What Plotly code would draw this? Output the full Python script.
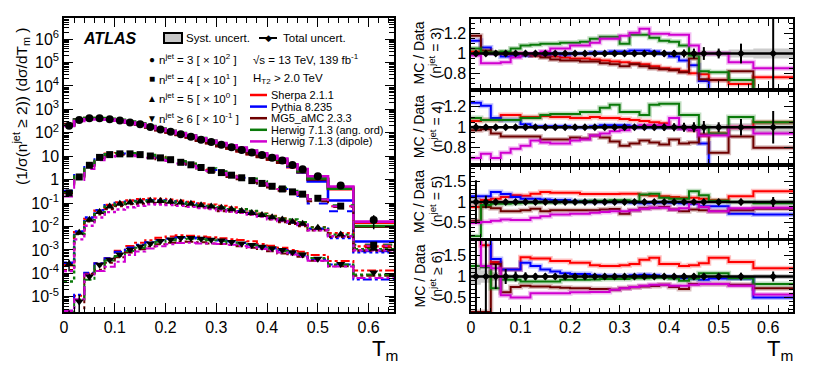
import plotly.graph_objects as go

W, H = 814, 386
# the page body keeps its default 8 px margin, so the figure is drawn 16 px smaller
OFF = 8
FIG_W, FIG_H = W - 2 * OFF, H - 2 * OFF
FONT = "Liberation Sans, Arial, Helvetica, sans-serif"

# T_m bin edges (last three bins are wider)
BIN_EDGES = [0.00, 0.02, 0.04, 0.06, 0.08, 0.10, 0.12, 0.14, 0.16, 0.18, 0.20,
             0.22, 0.24, 0.26, 0.28, 0.30, 0.32, 0.34, 0.36, 0.38, 0.40,
             0.42, 0.44, 0.46, 0.48, 0.52, 0.57, 0.65]

# data (1/sigma) dsigma/dT_m, already multiplied by the legend scale factor
DATA_N3 = [200, 355, 417, 417, 380, 331, 275, 229, 178, 138, 110, 87, 68, 51,
           40, 31, 24, 18.6, 14.5, 11.2, 8.7, 6.6, 4.2, 2.8, 1.4, 0.56, 0.019]
DATA_N4 = [0.27, 1.3, 4.1, 8.9, 11.7, 12.6, 12.6, 11.7, 10.2, 8.5, 7.1, 5.5,
           4.3, 3.3, 2.5, 2.0, 1.55, 1.2, 0.91, 0.69, 0.52, 0.40, 0.30, 0.24,
           0.16, 0.074, 0.0016]
DATA_N5 = [0.00025, 0.0054, 0.0195, 0.042, 0.072, 0.093, 0.107, 0.117, 0.126,
           0.123, 0.115, 0.105, 0.093, 0.081, 0.072, 0.063, 0.054, 0.046,
           0.038, 0.031, 0.025, 0.020, 0.0158, 0.0132, 0.0089, 0.0045, 0.00112]
DATA_N6 = [1.3e-6, 6.3e-6, 7.4e-5, 2.3e-4, 3.8e-4, 6.3e-4, 1.02e-3, 1.41e-3,
           1.9e-3, 2.4e-3, 2.8e-3, 3.2e-3, 3.2e-3, 3.0e-3, 2.75e-3, 2.5e-3,
           2.2e-3, 1.9e-3, 1.62e-3, 1.38e-3, 1.17e-3, 1.0e-3, 7.9e-4, 6.3e-4,
           4.2e-4, 2.5e-4, 1.1e-4]

# relative total / systematic uncertainties of data
TOT_N3 = [0.015, 0.012, 0.01, 0.01, 0.01, 0.01, 0.01, 0.01, 0.012, 0.012, 0.012,
          0.013, 0.014, 0.015, 0.017, 0.02, 0.022, 0.025, 0.03, 0.033, 0.035,
          0.04, 0.05, 0.065, 0.05, 0.1, 0.6]
TOT_N4 = [0.04, 0.02, 0.015, 0.012, 0.012, 0.012, 0.012, 0.012, 0.012, 0.012,
          0.013, 0.014, 0.015, 0.016, 0.018, 0.02, 0.022, 0.025, 0.03, 0.035,
          0.04, 0.045, 0.05, 0.06, 0.05, 0.08, 0.16]
TOT_N5 = [0.52, 0.15, 0.07, 0.05, 0.04, 0.035, 0.03, 0.03, 0.03, 0.03, 0.03,
          0.03, 0.03, 0.03, 0.03, 0.03, 0.035, 0.035, 0.04, 0.04, 0.045, 0.05,
          0.05, 0.06, 0.05, 0.08, 0.12]
TOT_N6 = [1.0, 0.9, 0.3, 0.18, 0.12, 0.1, 0.08, 0.07, 0.06, 0.06, 0.06, 0.05,
          0.05, 0.05, 0.05, 0.05, 0.05, 0.06, 0.06, 0.06, 0.06, 0.07, 0.07, 0.08,
          0.07, 0.09, 0.12]
SYST_N3 = [0.012, 0.01, 0.01, 0.01, 0.01, 0.01, 0.01, 0.01, 0.01, 0.01, 0.01,
           0.01, 0.012, 0.012, 0.013, 0.014, 0.015, 0.016, 0.018, 0.02, 0.02,
           0.022, 0.025, 0.03, 0.03, 0.04, 0.05]
SYST_N4 = [0.02, 0.012, 0.01, 0.01, 0.01, 0.01, 0.01, 0.01, 0.01, 0.01, 0.01,
           0.012, 0.012, 0.013, 0.014, 0.015, 0.016, 0.018, 0.02, 0.022, 0.025,
           0.028, 0.03, 0.035, 0.03, 0.04, 0.06]
SYST_N5 = [0.1, 0.05, 0.03, 0.025, 0.02, 0.02, 0.02, 0.02, 0.02, 0.02, 0.02,
           0.02, 0.02, 0.02, 0.02, 0.02, 0.022, 0.022, 0.025, 0.025, 0.028,
           0.03, 0.03, 0.035, 0.03, 0.04, 0.06]
SYST_N6 = [0.2, 0.15, 0.1, 0.06, 0.05, 0.04, 0.04, 0.035, 0.03, 0.03, 0.03,
           0.03, 0.03, 0.03, 0.03, 0.03, 0.03, 0.035, 0.035, 0.035, 0.035, 0.04,
           0.04, 0.045, 0.04, 0.05, 0.06]

# MC / data ratios
SHERPA_N3 = [1.02, 1.01, 1.00, 1.00, 0.99, 0.99, 0.98, 0.98, 0.97, 0.96, 0.95,
             0.95, 0.94, 0.93, 0.92, 0.91, 0.90, 0.89, 0.87, 0.85, 0.84, 0.82,
             0.80, 0.79, 0.73, 0.69, 0.76]
PYTHIA_N3 = [1.13, 1.06, 1.00, 0.97, 0.98, 0.98, 0.99, 0.99, 1.00, 0.99, 1.00,
             1.00, 1.01, 1.01, 1.02, 1.02, 1.03, 1.03, 1.02, 1.00, 0.97, 0.93,
             0.88, 0.72, 0.60, 0.23, 0.12]
MG5_N3 = [1.18, 1.03, 1.01, 1.00, 1.00, 0.99, 0.98, 0.96, 0.94, 0.93, 0.93,
          0.92, 0.92, 0.90, 0.89, 0.87, 0.89, 0.87, 0.85, 0.84, 0.83, 0.81,
          0.95, 0.74, 0.73, 0.82, 0.52]
HERWIG_ANG_N3 = [1.05, 1.01, 1.01, 1.02, 1.05, 1.08, 1.09, 1.10, 1.10, 1.11,
                 1.11, 1.12, 1.15, 1.17, 1.17, 1.10, 1.19, 1.19, 1.16, 1.13,
                 1.12, 1.08, 0.98, 0.82, 0.81, 0.73, 0.55]
HERWIG_DIP_N3 = [0.98, 0.90, 0.90, 0.91, 0.96, 1.00, 1.00, 1.02, 1.05, 1.05,
                 1.08, 1.08, 1.11, 1.15, 1.15, 1.18, 1.21, 1.25, 1.20, 1.20,
                 1.19, 1.19, 1.08, 1.00, 1.00, 0.91, 0.85]

SHERPA_N4 = [1.06, 1.07, 1.07, 1.12, 1.12, 1.10, 1.10, 1.11, 1.10, 1.10, 1.09,
             1.09, 1.10, 1.09, 1.09, 1.08, 1.07, 1.06, 1.05, 1.04, 1.00, 0.99,
             0.97, 0.92, 0.94, 1.00, 1.05]
PYTHIA_N4 = [1.24, 1.21, 1.09, 1.07, 1.07, 1.03, 1.01, 1.01, 1.01, 1.01, 1.00,
             1.00, 1.01, 1.02, 1.02, 1.02, 1.01, 1.00, 1.00, 1.00, 1.00, 0.99,
             0.98, 0.84, 0.60, 0.60, 0.55]
MG5_N4 = [0.97, 0.98, 0.94, 0.91, 0.91, 0.91, 0.91, 0.88, 0.88, 0.88, 0.90,
          0.89, 0.92, 0.90, 0.86, 0.82, 0.84, 0.87, 0.85, 0.83, 0.88, 0.84,
          0.85, 0.93, 0.75, 0.91, 0.80]
HERWIG_ANG_N4 = [1.09, 1.07, 1.07, 1.07, 1.07, 1.09, 1.09, 1.12, 1.13, 1.13,
                 1.13, 1.15, 1.15, 1.19, 1.22, 1.15, 1.15, 1.12, 1.22, 1.23,
                 1.23, 1.12, 1.12, 1.00, 0.94, 1.10, 1.05]
HERWIG_DIP_N4 = [0.70, 0.74, 0.70, 0.75, 0.79, 0.82, 0.87, 0.85, 0.84, 0.84,
                 0.87, 0.88, 0.92, 0.94, 0.96, 0.97, 1.00, 1.02, 1.02, 1.02,
                 1.09, 0.99, 0.98, 0.92, 0.92, 1.00, 0.94]

SHERPA_N5 = [0.88, 1.05, 1.08, 1.12, 1.16, 1.15, 1.20, 1.24, 1.22, 1.22, 1.22,
             1.19, 1.19, 1.19, 1.19, 1.20, 1.20, 1.17, 1.15, 1.14, 1.12, 1.10,
             1.10, 1.08, 1.04, 1.14, 1.26]
PYTHIA_N5 = [1.14, 1.14, 1.24, 1.19, 1.12, 1.08, 1.08, 1.06, 1.05, 1.05, 1.02,
             1.01, 1.00, 1.00, 1.00, 1.00, 0.98, 0.97, 0.98, 0.99, 0.98, 0.97,
             0.96, 0.90, 0.90, 0.72, 0.70]
MG5_N5 = [0.55, 0.88, 0.85, 0.78, 0.78, 0.80, 0.84, 0.78, 0.80, 0.80, 0.80,
          0.80, 0.80, 0.82, 0.83, 0.72, 0.80, 0.85, 0.86, 0.88, 0.82, 0.78,
          0.82, 0.80, 0.78, 0.80, 0.84]
HERWIG_ANG_N5 = [0.18, 0.93, 0.96, 0.96, 0.97, 0.98, 0.98, 0.99, 0.99, 1.00,
                 1.00, 1.02, 1.03, 1.03, 1.04, 1.04, 1.02, 1.18, 1.20, 1.10,
                 1.08, 1.08, 1.26, 1.16, 1.03, 1.00, 0.97]
HERWIG_DIP_N5 = [0.50, 0.52, 0.55, 0.58, 0.57, 0.57, 0.62, 0.66, 0.70, 0.70,
                 0.72, 0.72, 0.74, 0.76, 0.78, 0.78, 0.80, 0.84, 0.86, 0.86,
                 0.82, 0.85, 0.98, 0.88, 0.78, 0.85, 0.86]

SHERPA_N6 = [1.95, 1.75, 1.35, 1.17, 1.17, 1.46, 1.43, 1.43, 1.37, 1.37, 1.33,
             1.33, 1.27, 1.25, 1.25, 1.27, 1.30, 1.40, 1.45, 1.30, 1.30, 1.25,
             1.27, 1.32, 1.45, 1.35, 1.20]
PYTHIA_N6 = [1.95, 1.95, 1.42, 1.17, 1.17, 1.33, 1.25, 1.17, 1.12, 1.08, 1.06,
             1.06, 1.03, 1.02, 1.02, 1.01, 1.03, 1.04, 1.03, 1.00, 0.98, 0.96,
             0.95, 0.92, 0.95, 0.95, 0.50]
MG5_N6 = [0.15, 0.15, 1.30, 0.62, 0.75, 0.78, 0.76, 0.76, 0.74, 0.73, 0.72,
          0.72, 0.70, 0.70, 0.68, 0.72, 0.74, 0.76, 0.77, 0.80, 0.75, 0.70,
          0.82, 0.82, 0.82, 0.80, 0.72]
HERWIG_ANG_N6 = [1.25, 1.22, 0.72, 0.92, 0.92, 0.88, 0.88, 0.88, 0.88, 0.92,
                 0.92, 0.92, 0.93, 0.94, 0.94, 0.94, 0.96, 0.96, 0.97, 0.97,
                 0.95, 0.90, 0.95, 1.08, 1.08, 0.96, 0.82]
HERWIG_DIP_N6 = [1.90, 1.25, 1.20, 0.55, 0.50, 0.50, 0.60, 0.60, 0.60, 0.60,
                 0.62, 0.62, 0.63, 0.63, 0.68, 0.72, 0.75, 0.78, 0.80, 0.80,
                 0.78, 0.78, 0.80, 0.82, 0.82, 0.78, 0.57]

GENERATORS = ["Sherpa 2.1.1", "Pythia 8.235", "MG5_aMC 2.3.3",
              "Herwig 7.1.3 (ang. ord)", "Herwig 7.1.3 (dipole)"]
GEN_COLORS = ["#ff0000", "#0000ff", "#6e0000", "#0a7a0a", "#d000d0"]
GEN_HALO = ["rgba(255,0,0,0.25)", "rgba(0,0,255,0.25)", "rgba(110,0,0,0.25)",
            "rgba(10,122,10,0.25)", "rgba(208,0,208,0.25)"]

NJET_LABELS = ["n<sup>jet</sup> = 3 [ × 10<sup>2</sup> ]",
               "n<sup>jet</sup> = 4 [ × 10<sup>1</sup> ]",
               "n<sup>jet</sup> = 5 [ × 10<sup>0</sup> ]",
               "n<sup>jet</sup> ≥ 6 [ × 10<sup>-1</sup> ]"]
RATIO_TITLES = ["(n<sup>jet</sup> = 3)", "(n<sup>jet</sup> = 4)",
                "(n<sup>jet</sup> = 5)", "(n<sup>jet</sup> ≥ 6)"]

samples = [
    dict(data=DATA_N3, tot=TOT_N3, syst=SYST_N3, symbol="circle", msize=8,
         dash="solid", lw=2.6, yr=[0.65, 1.35], ytv=[0.8, 1, 1.2], ymin=0.05,
         ratios=[SHERPA_N3, PYTHIA_N3, MG5_N3, HERWIG_ANG_N3, HERWIG_DIP_N3]),
    dict(data=DATA_N4, tot=TOT_N4, syst=SYST_N4, symbol="square", msize=7,
         dash="dash", lw=2, yr=[0.65, 1.35], ytv=[0.8, 1, 1.2], ymin=0.05,
         ratios=[SHERPA_N4, PYTHIA_N4, MG5_N4, HERWIG_ANG_N4, HERWIG_DIP_N4]),
    dict(data=DATA_N5, tot=TOT_N5, syst=SYST_N5, symbol="triangle-up", msize=8,
         dash="dot", lw=2.4, yr=[0.15, 1.85], ytv=[0.5, 1, 1.5], ymin=0.1,
         ratios=[SHERPA_N5, PYTHIA_N5, MG5_N5, HERWIG_ANG_N5, HERWIG_DIP_N5]),
    dict(data=DATA_N6, tot=TOT_N6, syst=SYST_N6, symbol="triangle-down", msize=8,
         dash="dashdot", lw=2, yr=[0.15, 1.85], ytv=[0.5, 1, 1.5], ymin=0.1,
         ratios=[SHERPA_N6, PYTHIA_N6, MG5_N6, HERWIG_ANG_N6, HERWIG_DIP_N6]),
]

centers = [(a + b) / 2 for a, b in zip(BIN_EDGES[:-1], BIN_EDGES[1:])]


def px(x):
    # window pixel -> paper fraction
    return (x - OFF) / FIG_W


def py(y):
    return 1 - (y - OFF) / FIG_H


def steps(vals):
    return BIN_EDGES, list(vals) + [vals[-1]]


fig = go.Figure()

# ---------------- main panel ----------------
for s in samples:
    for gi in range(5):
        mc = [d * r for d, r in zip(s["data"], s["ratios"][gi])]
        x, y = steps(mc)
        fig.add_trace(go.Scatter(x=x, y=y, mode="lines", line_shape="hv",
                                 line=dict(color=GEN_COLORS[gi], width=s["lw"], dash=s["dash"]),
                                 xaxis="x", yaxis="y", showlegend=False, hoverinfo="skip"))
for s in samples:
    fig.add_trace(go.Scatter(
        x=centers, y=s["data"], mode="markers",
        marker=dict(symbol=s["symbol"], size=s["msize"], color="black"),
        error_y=dict(type="data", array=[d * e for d, e in zip(s["data"], s["tot"])],
                     color="black", thickness=1.5, width=0),
        xaxis="x", yaxis="y", showlegend=False))

# ---------------- ratio panels ----------------
for i, s in enumerate(samples):
    ax = str(i + 2)
    lo = [1 - e for e in s["syst"]]
    hi = [1 + e for e in s["syst"]]
    xl, yl = steps(lo)
    xh, yh = steps(hi)
    fig.add_trace(go.Scatter(x=xl, y=yl, mode="lines", line_shape="hv", line=dict(width=0),
                             xaxis="x" + ax, yaxis="y" + ax, showlegend=False, hoverinfo="skip"))
    fig.add_trace(go.Scatter(x=xh, y=yh, mode="lines", line_shape="hv", line=dict(width=0),
                             fill="tonexty", fillcolor="rgba(170,170,170,0.6)",
                             xaxis="x" + ax, yaxis="y" + ax, showlegend=False, hoverinfo="skip"))
    for gi in range(5):
        x, y = steps(s["ratios"][gi])
        fig.add_trace(go.Scatter(x=x, y=y, mode="lines", line_shape="hv",
                                 line=dict(color=GEN_HALO[gi], width=5),
                                 xaxis="x" + ax, yaxis="y" + ax, showlegend=False, hoverinfo="skip"))
        fig.add_trace(go.Scatter(x=x, y=y, mode="lines", line_shape="hv",
                                 line=dict(color=GEN_COLORS[gi], width=2),
                                 xaxis="x" + ax, yaxis="y" + ax, showlegend=False, hoverinfo="skip"))
    fig.add_trace(go.Scatter(x=[BIN_EDGES[0], BIN_EDGES[-1]], y=[1, 1], mode="lines",
                             line=dict(color="black", width=2.5),
                             xaxis="x" + ax, yaxis="y" + ax, showlegend=False, hoverinfo="skip"))
    fig.add_trace(go.Scatter(
        x=centers, y=[1] * len(centers), mode="markers",
        marker=dict(symbol="diamond", size=6, color="black"),
        error_y=dict(type="data", array=s["tot"], color="black", thickness=2, width=0),
        xaxis="x" + ax, yaxis="y" + ax, showlegend=False))

# ---------------- axes ----------------
common = dict(showgrid=False, zeroline=False, showline=True, linecolor="black",
              linewidth=1.5, ticks="inside", mirror="allticks", tickcolor="black",
              automargin=False, tickfont=dict(family=FONT, size=16, color="black"))
xticks = [0, 0.1, 0.2, 0.3, 0.4, 0.5, 0.6]
xtext = ["0", "0.1", "0.2", "0.3", "0.4", "0.5", "0.6"]

RIGHT_TOPS = [19, 91.5, 166.5, 241]
RIGHT_BOTTOMS = [88, 163, 237.5, 312]

layout = dict(
    width=FIG_W, height=FIG_H, margin=dict(l=0, r=0, t=0, b=0),
    paper_bgcolor="white", plot_bgcolor="white", showlegend=False,
    xaxis=dict(common, domain=[px(64), px(394)], range=[0, 0.65], anchor="y",
               tickvals=xticks, ticktext=xtext, ticklen=9,
               minor=dict(ticks="inside", ticklen=5, dtick=0.02, tick0=0, tickcolor="black")),
    yaxis=dict(common, domain=[py(312), py(18)], type="log", range=[-5.65, 6.9],
               anchor="x", tickvals=[1e-5, 1e-4, 1e-3, 1e-2, 1e-1, 1, 10, 1e2, 1e3, 1e4, 1e5, 1e6],
               ticktext=["10<sup>-5</sup>", "10<sup>-4</sup>", "10<sup>-3</sup>", "10<sup>-2</sup>",
                         "10<sup>-1</sup>", "1", "10", "10<sup>2</sup>", "10<sup>3</sup>",
                         "10<sup>4</sup>", "10<sup>5</sup>", "10<sup>6</sup>"],
               ticklen=9,
               minor=dict(ticks="inside", ticklen=5, dtick="D1", tickcolor="black")),
)
for i, s in enumerate(samples):
    ax = str(i + 2)
    layout["xaxis" + ax] = dict(common, domain=[px(471), px(793)], range=[0, 0.65],
                                anchor="y" + ax, tickvals=xticks,
                                ticktext=xtext if i == 3 else [""] * len(xticks), ticklen=7,
                                minor=dict(ticks="inside", ticklen=4, dtick=0.02, tick0=0,
                                           tickcolor="black"))
    layout["yaxis" + ax] = dict(common, domain=[py(RIGHT_BOTTOMS[i]), py(RIGHT_TOPS[i])],
                                range=s["yr"], anchor="x" + ax, tickvals=s["ytv"],
                                ticktext=[("%g" % v) for v in s["ytv"]], ticklen=9,
                                minor=dict(ticks="inside", ticklen=4, dtick=s["ymin"], tick0=0,
                                           tickcolor="black"))
fig.update_layout(**layout)

# ---------------- texts ----------------
ann = []


def text(x, y, t, size=12, xanchor="left", **kw):
    ann.append(dict(x=px(x), y=py(y), xref="paper", yref="paper", text=t, showarrow=False,
                    xanchor=xanchor, yanchor="middle",
                    font=dict(family=FONT, size=size, color="black"), **kw))


text(21, 106, "(1/σ(n<sup>jet</sup> ≥ 2)) (dσ/dT<sub>m</sub> )", size=15.5,
     xanchor="center", textangle=-90)
text(400, 350, "T<sub>m</sub>", size=22, xanchor="right")
text(795, 350, "T<sub>m</sub>", size=22, xanchor="right")
for i in range(4):
    yc = (RIGHT_TOPS[i] + RIGHT_BOTTOMS[i]) / 2
    text(419, yc, "MC / Data", size=14, xanchor="center", textangle=-90)
    text(436, yc, RATIO_TITLES[i], size=14, xanchor="center", textangle=-90)

ann.append(dict(x=px(81), y=py(38), xref="paper", yref="paper", text="<b><i>ATLAS</i></b>",
                showarrow=False, xanchor="left", yanchor="middle",
                font=dict(family=FONT, size=16, color="black")))
text(184, 38, "Syst. uncert.", size=11.5)
text(281, 38, "Total uncert.", size=11.5)
marks = ["●", "■", "▲", "▼"]
for i, (m, lab) in enumerate(zip(marks, NJET_LABELS)):
    yy = 59 + 19.7 * i
    text(152, yy, m, size=10, xanchor="center")
    text(157, yy, lab, size=11.5)
text(251, 59, "√s = 13 TeV, 139 fb<sup>-1</sup>", size=11.5)
text(251, 79, "H<sub>T2</sub> > 2.0 TeV", size=11.5)
for gi, g in enumerate(GENERATORS):
    text(269, 95 + 11.6 * gi, g, size=11)
text(268, 38, "◆", size=9, xanchor="center")

shapes = [
    dict(type="rect", xref="paper", yref="paper", x0=px(164), x1=px(182), y0=py(43), y1=py(33),
         fillcolor="#c8c8c8", line=dict(color="black", width=2)),
    dict(type="line", xref="paper", yref="paper", x0=px(259), x1=px(277), y0=py(38), y1=py(38),
         line=dict(color="black", width=2)),
]
for gi in range(5):
    yy = py(95 + 11.6 * gi)
    shapes.append(dict(type="line", xref="paper", yref="paper", x0=px(250), x1=px(267),
                       y0=yy, y1=yy, line=dict(color=GEN_COLORS[gi], width=2.5)))

fig.update_layout(annotations=ann, shapes=shapes)
fig.write_html("out.html")
